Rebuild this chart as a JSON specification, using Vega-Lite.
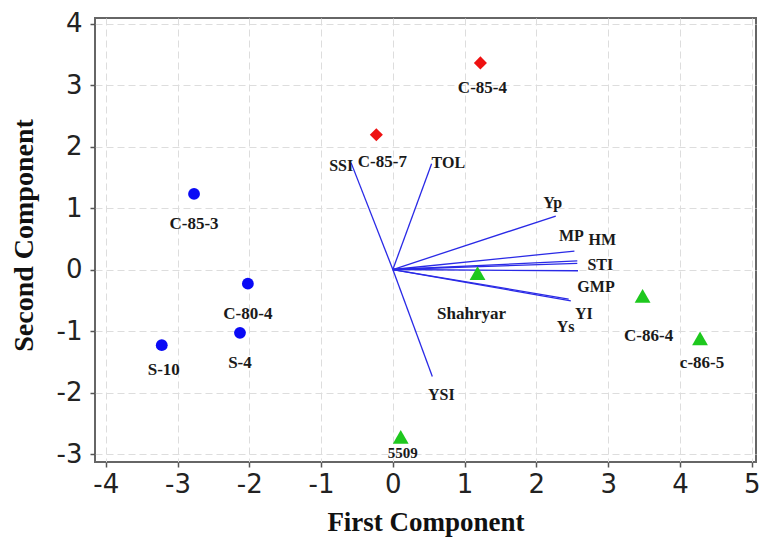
{
  "$schema": "https://vega.github.io/schema/vega-lite/v6.json",
  "width": 661,
  "height": 444,
  "autosize": "none",
  "padding": {"left": 95, "top": 18, "right": 4, "bottom": 75},
  "background": "white",
  "config": {
    "view": {"stroke": "#666666", "strokeWidth": 2},
    "text": {"font": "Liberation Serif", "fontWeight": "bold", "fontSize": 16, "color": "#1a1a1a", "baseline": "middle", "align": "center"}
  },
  "datasets": {
    "geno": [
      {"name": "C-85-3", "g": "A", "x": -2.77, "y": 1.23},
      {"name": "C-80-4", "g": "A", "x": -2.02, "y": -0.23},
      {"name": "S-4", "g": "A", "x": -2.13, "y": -1.03},
      {"name": "S-10", "g": "A", "x": -3.22, "y": -1.23},
      {"name": "C-85-7", "g": "B", "x": -0.23, "y": 2.19},
      {"name": "C-85-4", "g": "B", "x": 1.22, "y": 3.36},
      {"name": "Shahryar", "g": "C", "x": 1.18, "y": -0.06},
      {"name": "C-86-4", "g": "C", "x": 3.48, "y": -0.43},
      {"name": "c-86-5", "g": "C", "x": 4.28, "y": -1.12},
      {"name": "5509", "g": "C", "x": 0.11, "y": -2.72}
    ],
    "traits": [
      {"t": "SSI", "x": -0.58, "y": 1.73},
      {"t": "TOL", "x": 0.54, "y": 1.72},
      {"t": "Yp", "x": 2.27, "y": 0.87},
      {"t": "MP", "x": 2.53, "y": 0.30},
      {"t": "HM", "x": 2.57, "y": 0.14},
      {"t": "STI", "x": 2.57, "y": 0.10},
      {"t": "GMP", "x": 2.58, "y": -0.02},
      {"t": "YI", "x": 2.48, "y": -0.51},
      {"t": "Ys", "x": 2.45, "y": -0.48},
      {"t": "YSI", "x": 0.55, "y": -1.74}
    ]
  },
  "layer": [
    {
      "data": {"name": "traits"},
      "mark": {"type": "rule", "color": "#2a2ae6", "strokeWidth": 1.3},
      "encoding": {
        "x": {
          "field": "x", "type": "quantitative",
          "scale": {"domain": [-4.15, 5.06], "nice": false, "zero": false},
          "axis": {
            "title": "First Component",
            "values": [-4, -3.5, -3, -2.5, -2, -1.5, -1, -0.5, 0, 0.5, 1, 1.5, 2, 2.5, 3, 3.5, 4, 4.5, 5],
            "grid": true, "gridColor": "#dddddd", "gridDash": [7, 4], "gridWidth": 1,
            "domain": false,
            "tickColor": "#555555", "tickSize": 5, "tickWidth": 1.5,
            "tickOpacity": {"condition": {"test": "datum.value % 1 != 0", "value": 0}, "value": 1},
            "labelExpr": "datum.value % 1 == 0 ? '' + datum.value : ''",
            "labelFont": "DejaVu Sans", "labelFontSize": 26, "labelColor": "#222222",
            "labelPadding": 4, "labelFlush": false, "labelOverlap": false,
            "titleFont": "Liberation Serif", "titleFontSize": 27, "titleFontWeight": "bold", "titleColor": "#111111",
            "titleY": 68, "titleBaseline": "alphabetic"
          }
        },
        "y": {
          "field": "y", "type": "quantitative",
          "scale": {"domain": [-3.13, 4.09], "nice": false, "zero": false},
          "axis": {
            "title": "Second Component",
            "values": [-3, -2.5, -2, -1.5, -1, -0.5, 0, 0.5, 1, 1.5, 2, 2.5, 3, 3.5, 4],
            "grid": true, "gridColor": "#dddddd", "gridDash": [7, 4], "gridWidth": 1,
            "domain": false,
            "tickColor": "#555555", "tickSize": 5, "tickWidth": 1.5,
            "tickOpacity": {"condition": {"test": "datum.value % 1 != 0", "value": 0}, "value": 1},
            "labelExpr": "datum.value % 1 == 0 ? '' + datum.value : ''",
            "labelFont": "DejaVu Sans", "labelFontSize": 26, "labelColor": "#222222",
            "labelPadding": 8, "labelFlush": false, "labelOverlap": false,
            "titleFont": "Liberation Serif", "titleFontSize": 28, "titleFontWeight": "bold", "titleColor": "#111111",
            "titleAngle": -90, "titleX": -63, "titleY": 217, "titleAlign": "center", "titleBaseline": "alphabetic"
          }
        },
        "x2": {"datum": 0},
        "y2": {"datum": 0}
      }
    },
    {
      "data": {"name": "geno"},
      "transform": [{"filter": "datum.g == 'A'"}],
      "mark": {"type": "point", "shape": "circle", "filled": true, "opacity": 1, "size": 140, "color": "#0a0af5"},
      "encoding": {"x": {"field": "x", "type": "quantitative"}, "y": {"field": "y", "type": "quantitative"}}
    },
    {
      "data": {"name": "geno"},
      "transform": [{"filter": "datum.g == 'B'"}],
      "mark": {"type": "point", "shape": "diamond", "filled": true, "opacity": 1, "size": 170, "color": "#ee1111"},
      "encoding": {"x": {"field": "x", "type": "quantitative"}, "y": {"field": "y", "type": "quantitative"}}
    },
    {
      "data": {"name": "geno"},
      "transform": [{"filter": "datum.g == 'C'"}],
      "mark": {"type": "point", "shape": "triangle-up", "filled": true, "opacity": 1, "size": 250, "color": "#1ec81e"},
      "encoding": {"x": {"field": "x", "type": "quantitative"}, "y": {"field": "y", "type": "quantitative"}}
    },
    {
      "data": {"name": "geno"},
      "transform": [{"filter": "indexof(['C-85-3','C-80-4','S-4'], datum.name) >= 0"}],
      "mark": {"type": "text", "fontSize": 17, "dy": 30},
      "encoding": {"x": {"field": "x", "type": "quantitative"}, "y": {"field": "y", "type": "quantitative"}, "text": {"field": "name"}}
    },
    {
      "data": {"name": "geno"},
      "transform": [{"filter": "indexof(['S-10','C-85-4','c-86-5'], datum.name) >= 0"}],
      "mark": {"type": "text", "fontSize": 17, "dy": 25, "dx": 2},
      "encoding": {"x": {"field": "x", "type": "quantitative"}, "y": {"field": "y", "type": "quantitative"}, "text": {"field": "name"}}
    },
    {
      "data": {"name": "geno"},
      "transform": [{"filter": "datum.name == 'C-85-7'"}],
      "mark": {"type": "text", "fontSize": 17, "dy": 27, "dx": 6},
      "encoding": {"x": {"field": "x", "type": "quantitative"}, "y": {"field": "y", "type": "quantitative"}, "text": {"field": "name"}}
    },
    {
      "data": {"name": "geno"},
      "transform": [{"filter": "datum.name == 'C-86-4'"}],
      "mark": {"type": "text", "fontSize": 17, "dy": 40, "dx": 6},
      "encoding": {"x": {"field": "x", "type": "quantitative"}, "y": {"field": "y", "type": "quantitative"}, "text": {"field": "name"}}
    },
    {
      "data": {"name": "geno"},
      "transform": [{"filter": "datum.name == 'Shahryar'"}],
      "mark": {"type": "text", "fontSize": 17, "dy": 41, "dx": -6},
      "encoding": {"x": {"field": "x", "type": "quantitative"}, "y": {"field": "y", "type": "quantitative"}, "text": {"field": "name"}}
    },
    {
      "data": {"name": "geno"},
      "transform": [{"filter": "datum.name == '5509'"}],
      "mark": {"type": "text", "fontSize": 15, "dy": 16, "dx": 2},
      "encoding": {"x": {"field": "x", "type": "quantitative"}, "y": {"field": "y", "type": "quantitative"}, "text": {"field": "name"}}
    },
    {
      "data": {"name": "traits"},
      "transform": [{"filter": "datum.t == 'SSI'"}],
      "mark": {"type": "text", "align": "right", "dx": 2, "dy": 3},
      "encoding": {"x": {"field": "x", "type": "quantitative"}, "y": {"field": "y", "type": "quantitative"}, "text": {"field": "t"}}
    },
    {
      "data": {"name": "traits"},
      "transform": [{"filter": "datum.t == 'TOL'"}],
      "mark": {"type": "text", "align": "left", "dx": 0, "dy": -1},
      "encoding": {"x": {"field": "x", "type": "quantitative"}, "y": {"field": "y", "type": "quantitative"}, "text": {"field": "t"}}
    },
    {
      "data": {"name": "traits"},
      "transform": [{"filter": "datum.t == 'Yp'"}],
      "mark": {"type": "text", "dx": -3, "dy": -13},
      "encoding": {"x": {"field": "x", "type": "quantitative"}, "y": {"field": "y", "type": "quantitative"}, "text": {"field": "t"}}
    },
    {
      "data": {"name": "traits"},
      "transform": [{"filter": "datum.t == 'MP'"}],
      "mark": {"type": "text", "dx": -3, "dy": -15},
      "encoding": {"x": {"field": "x", "type": "quantitative"}, "y": {"field": "y", "type": "quantitative"}, "text": {"field": "t"}}
    },
    {
      "data": {"name": "traits"},
      "transform": [{"filter": "datum.t == 'HM'"}],
      "mark": {"type": "text", "dx": 25, "dy": -21},
      "encoding": {"x": {"field": "x", "type": "quantitative"}, "y": {"field": "y", "type": "quantitative"}, "text": {"field": "t"}}
    },
    {
      "data": {"name": "traits"},
      "transform": [{"filter": "datum.t == 'STI'"}],
      "mark": {"type": "text", "dx": 23, "dy": 2},
      "encoding": {"x": {"field": "x", "type": "quantitative"}, "y": {"field": "y", "type": "quantitative"}, "text": {"field": "t"}}
    },
    {
      "data": {"name": "traits"},
      "transform": [{"filter": "datum.t == 'GMP'"}],
      "mark": {"type": "text", "dx": 18, "dy": 16},
      "encoding": {"x": {"field": "x", "type": "quantitative"}, "y": {"field": "y", "type": "quantitative"}, "text": {"field": "t"}}
    },
    {
      "data": {"name": "traits"},
      "transform": [{"filter": "datum.t == 'YI'"}],
      "mark": {"type": "text", "dx": 13, "dy": 13},
      "encoding": {"x": {"field": "x", "type": "quantitative"}, "y": {"field": "y", "type": "quantitative"}, "text": {"field": "t"}}
    },
    {
      "data": {"name": "traits"},
      "transform": [{"filter": "datum.t == 'Ys'"}],
      "mark": {"type": "text", "dx": -3, "dy": 28},
      "encoding": {"x": {"field": "x", "type": "quantitative"}, "y": {"field": "y", "type": "quantitative"}, "text": {"field": "t"}}
    },
    {
      "data": {"name": "traits"},
      "transform": [{"filter": "datum.t == 'YSI'"}],
      "mark": {"type": "text", "dx": 9, "dy": 18},
      "encoding": {"x": {"field": "x", "type": "quantitative"}, "y": {"field": "y", "type": "quantitative"}, "text": {"field": "t"}}
    }
  ]
}
